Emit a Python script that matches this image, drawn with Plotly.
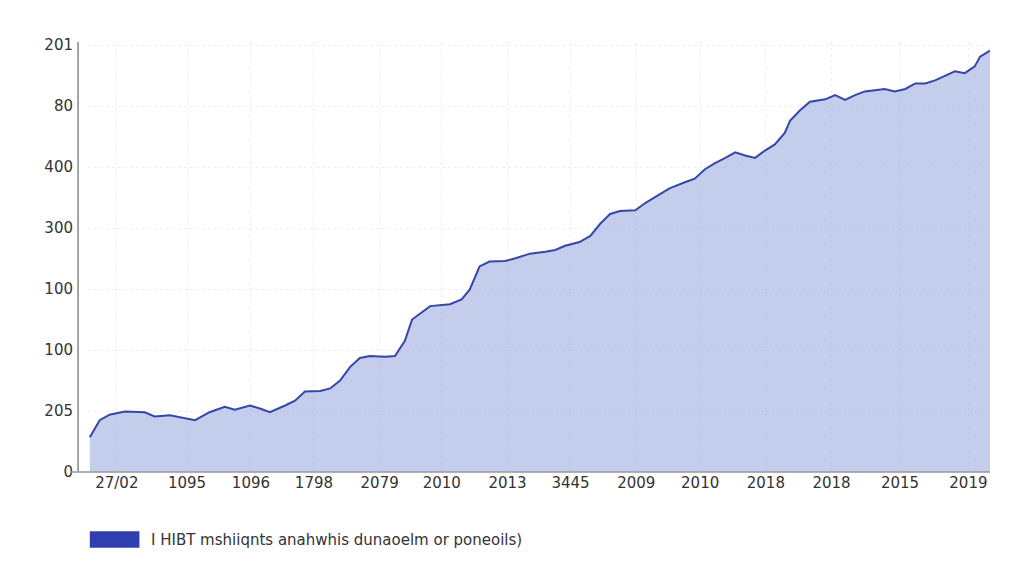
import plotly.graph_objects as go

x_vals = [0,1.1,2.2,3.9,6.1,7.2,8.9,10.6,11.7,13.3,15.0,16.1,17.8,18.9,20.0,21.7,22.8,23.9,25.6,26.7,27.8,28.9,30.0,31.1,32.8,33.9,35.0,35.8,36.7,37.8,40.0,41.3,42.2,43.3,44.4,46.1,47.2,48.9,50.6,51.7,52.8,54.4,55.6,56.7,57.8,58.9,60.6,61.7,63.3,64.4,66.1,67.2,68.3,69.4,70.6,71.7,72.8,73.9,75.0,76.1,77.2,77.8,78.9,80.0,81.7,82.8,83.9,85.0,86.1,87.2,88.3,89.4,90.6,91.7,92.8,93.9,95.0,96.1,97.2,98.3,98.9,100]
y_vals = [0.57,0.85,0.94,0.99,0.98,0.91,0.93,0.88,0.85,0.98,1.07,1.02,1.09,1.04,0.98,1.09,1.17,1.32,1.33,1.37,1.50,1.72,1.87,1.90,1.89,1.90,2.15,2.50,2.60,2.72,2.75,2.83,2.99,3.37,3.45,3.46,3.50,3.58,3.61,3.64,3.71,3.77,3.87,4.07,4.23,4.28,4.29,4.41,4.55,4.65,4.75,4.81,4.96,5.06,5.15,5.24,5.19,5.15,5.27,5.37,5.56,5.76,5.93,6.07,6.11,6.18,6.10,6.18,6.24,6.26,6.28,6.24,6.28,6.37,6.37,6.42,6.50,6.57,6.54,6.65,6.81,6.91]

x_tick_pos = [3,10.8,17.9,24.9,32.2,39.1,46.4,53.4,60.7,67.8,75.1,82.4,90,97.6]
x_tick_text = ["27/02","1095","1096","1798","2079","2010","2013","3445","2009","2010","2018","2018","2015","2019"]
y_tick_pos = [0,1,2,3,4,5,6,7]
y_tick_text = ["0","205","100","100","300","400","80","201"]
legend_text = "I HIBT mshiiqnts anahwhis dunaoelm or poneoils)"

fig = go.Figure(go.Scatter(x=x_vals, y=y_vals, mode="lines", fill="tozeroy",
    line=dict(color="#3446a8", width=2), fillcolor="rgba(140,155,220,0.5)", showlegend=False))

font = dict(family="DejaVu Sans", size=15, color="#333")
fig.update_layout(
    width=1024, height=576, margin=dict(l=80, r=42, t=34, b=112),
    paper_bgcolor="white", plot_bgcolor="white", font=font,
    xaxis=dict(range=[-0.2, 100], tickvals=x_tick_pos, ticktext=x_tick_text,
               showgrid=True, gridcolor="rgba(200,205,215,0.35)", griddash="dot",
               zeroline=False, showline=False, ticks="", tickfont=font),
    yaxis=dict(range=[0, 7.05], tickvals=y_tick_pos, ticktext=y_tick_text,
               showgrid=True, gridcolor="rgba(200,205,215,0.35)", griddash="dot",
               zeroline=False, showline=False, ticks="", ticklabelstandoff=14, tickfont=font),
)
fig.add_shape(type="line", xref="paper", yref="paper", x0=-0.011, x1=-0.011, y0=0, y1=1.0,
              line=dict(color="#888", width=1.5))
fig.add_shape(type="line", xref="paper", yref="paper", x0=-0.02, x1=1, y0=0, y1=0,
              line=dict(color="#999", width=1.5))
fig.add_shape(type="rect", xref="paper", yref="paper", x0=0.002, x1=0.057, y0=-0.176, y1=-0.138,
              fillcolor="#2f3fb0", line=dict(width=0))
fig.add_annotation(text=legend_text, xref="paper", yref="paper", x=0.068, y=-0.157,
                   xanchor="left", yanchor="middle", showarrow=False,
                   font=dict(family="DejaVu Sans", size=15, color="#333"))
fig.write_html("out.html")
